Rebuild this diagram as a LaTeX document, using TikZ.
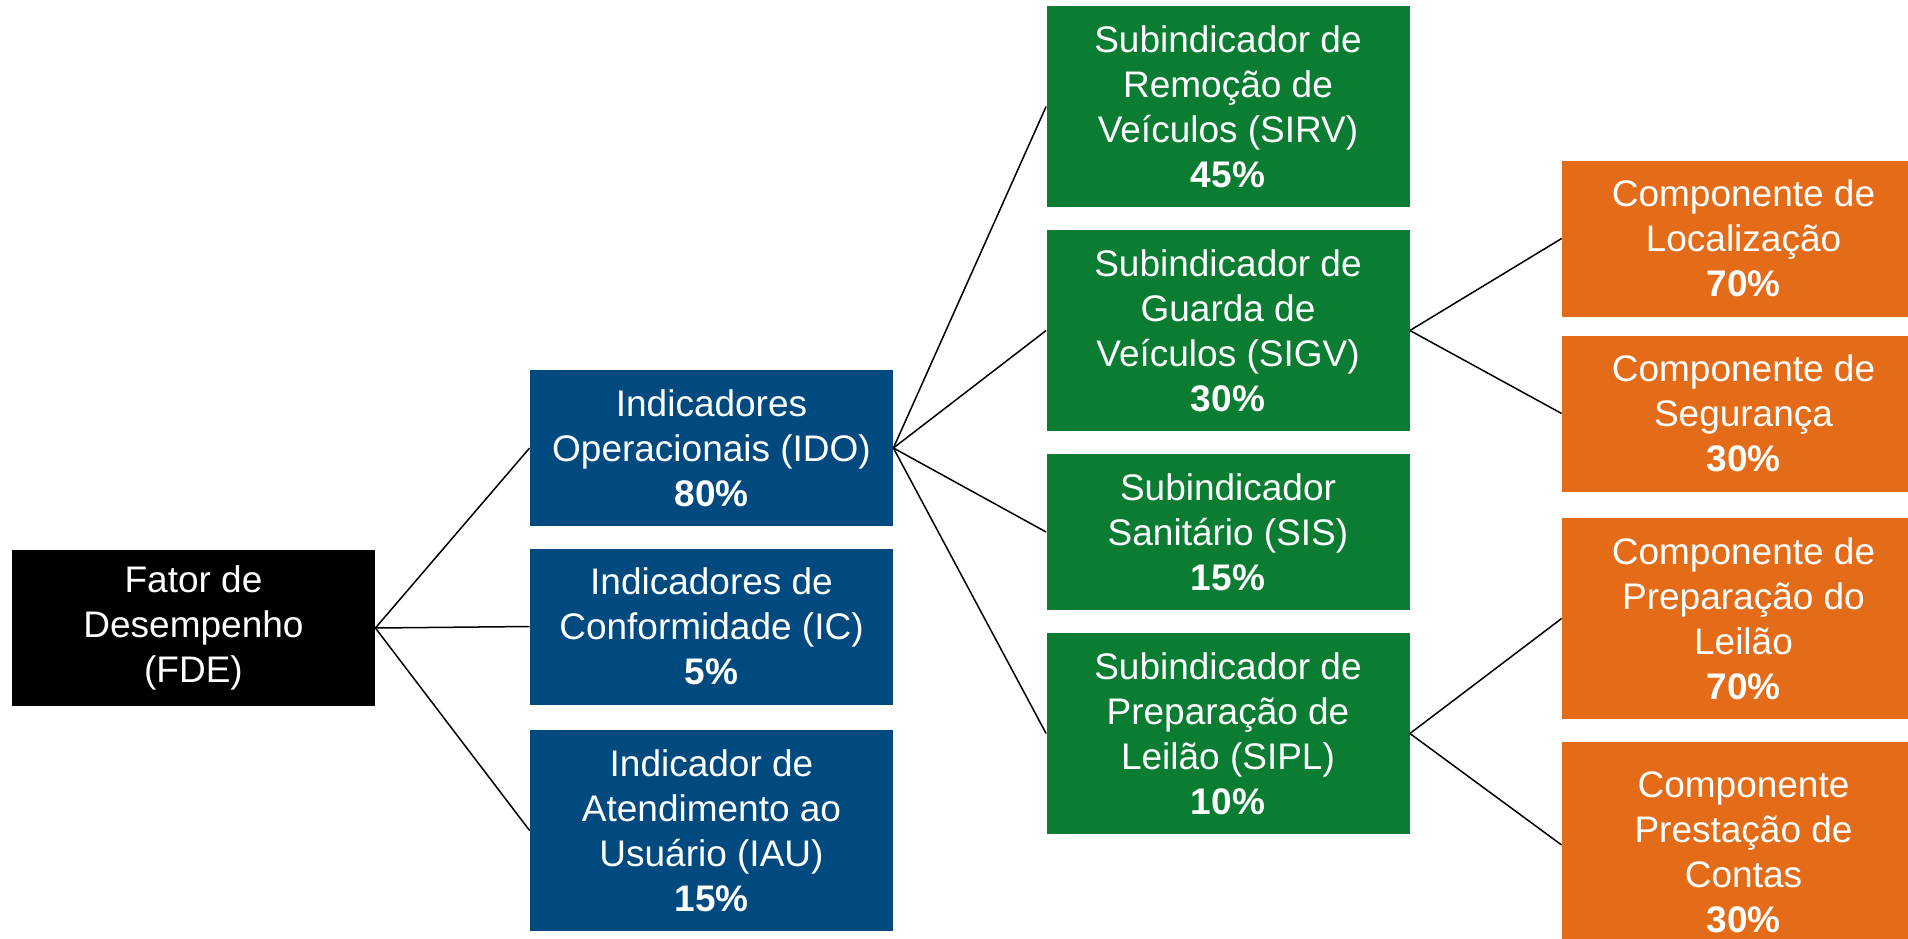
\documentclass[tikz,border=0pt]{standalone}
\usepackage{fontspec}
\setmainfont{Liberation Sans}
\definecolor{indblue}{HTML}{004A80}
\definecolor{subgreen}{HTML}{0B7D33}
\definecolor{comporange}{HTML}{E46B17}

\begin{document}
\begin{tikzpicture}[x=0.5pt,y=-0.5pt,
    box/.style={inner sep=0pt,minimum width=181.5pt,align=center,text=white,
      font=\fontsize{18.5}{22.5}\selectfont},
    short/.style={box,minimum height=78pt},
    tall/.style={box,minimum height=100.5pt},
    link/.style={line width=0.75pt,black}]
        \clip (0,0) rectangle (1908,938);
        \def\xa{193.5} \def\xb{711.5} \def\xc{1228} \def\xd{1743.5}

        % nivel 0
        \node (fde) at (\xa,628) [short,fill=black] {Fator de\\Desempenho\\(FDE)};

        % indicadores
        \node (ido) at (\xb,448) [short,fill=indblue] {Indicadores\\Operacionais (IDO)\\\textbf{80\%}};
        \node (ic) at (\xb,626.5) [short,fill=indblue] {Indicadores de\\Conformidade (IC)\\\textbf{5\%}};
        \node (iau) at (\xb,830.5) [tall,fill=indblue] {Indicador de\\Atendimento ao\\Usuário (IAU)\\\textbf{15\%}};

        % subindicadores
        \node (sirv) at (\xc,106.5) [tall,fill=subgreen] {Subindicador de\\Remoção de\\Veículos (SIRV)\\\textbf{45\%}};
        \node (sigv) at (\xc,330.5) [tall,fill=subgreen] {Subindicador de\\Guarda de\\Veículos (SIGV)\\\textbf{30\%}};
        \node (sis) at (\xc,532) [short,fill=subgreen] {Subindicador\\Sanitário (SIS)\\\textbf{15\%}};
        \node (sipl) at (\xc,733.5) [tall,fill=subgreen] {Subindicador de\\Preparação de\\Leilão (SIPL)\\\textbf{10\%}};

        % componentes
        \node (loc) at (\xd,238.5) [short,fill=comporange] {Componente de\\Localização\\\textbf{70\%}};
        \node (seg) at (\xd,413.5) [short,fill=comporange] {Componente de\\Segurança\\\textbf{30\%}};
        \node (prep) at (\xd,618.5) [tall,fill=comporange] {Componente de\\Preparação do\\Leilão\\\textbf{70\%}};
        \node (prest) at (\xd,852) [tall,minimum height=110pt,fill=comporange] {Componente\\Prestação de\\Contas\\\textbf{30\%}};

        \draw[link] (fde.east) -- (ido.west);
        \draw[link] (fde.east) -- (ic.west);
        \draw[link] (fde.east) -- (iau.west);

        \draw[link] (ido.east) -- (sirv.west);
        \draw[link] (ido.east) -- (sigv.west);
        \draw[link] (ido.east) -- (sis.west);
        \draw[link] (ido.east) -- (sipl.west);

        \draw[link] (sigv.east) -- (loc.west);
        \draw[link] (sigv.east) -- (seg.west);
        \draw[link] (sipl.east) -- (prep.west);
        \draw[link] (sipl.east) -- ([yshift=3.5pt]prest.west);
      \end{tikzpicture}
\end{document}
